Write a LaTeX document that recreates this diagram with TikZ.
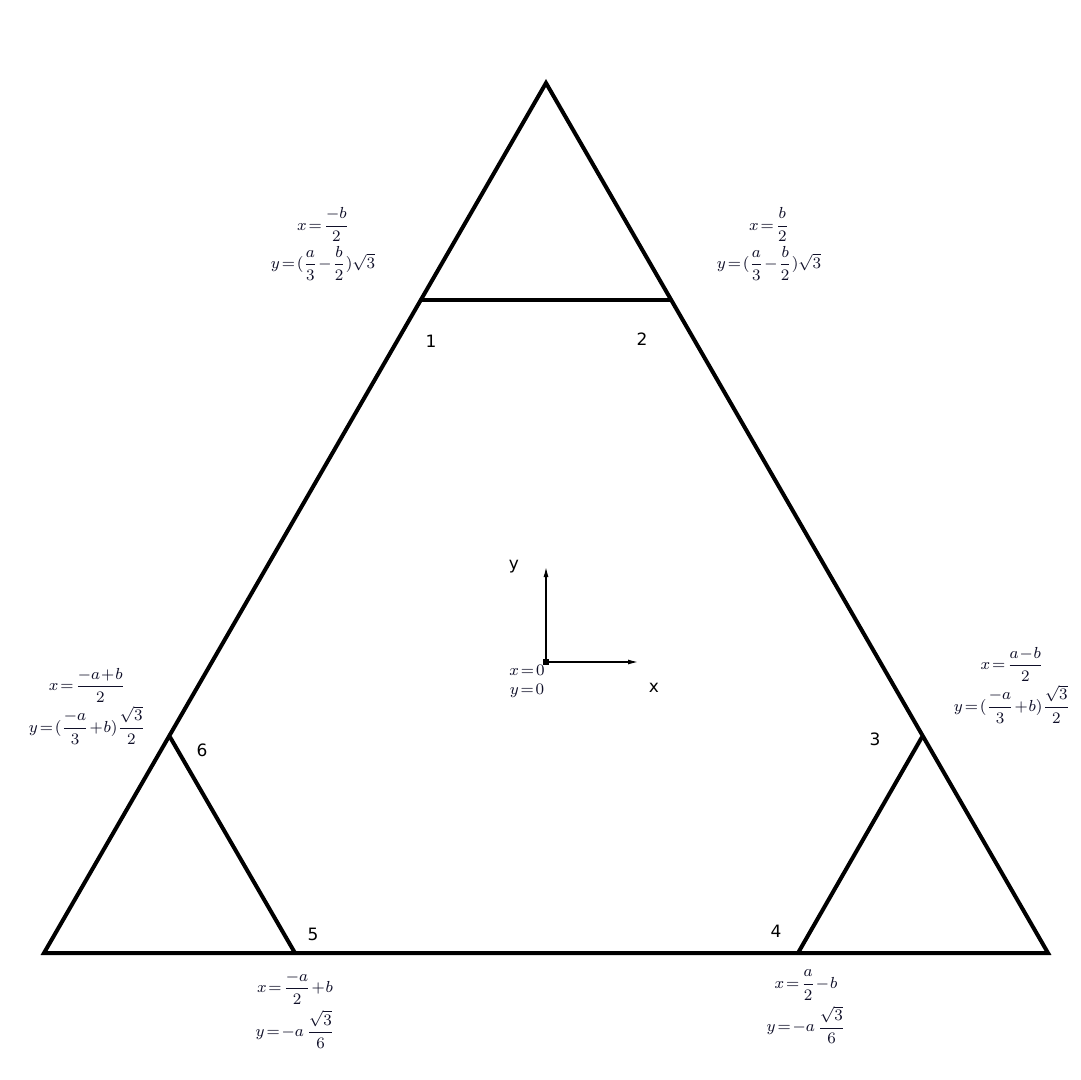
\documentclass[tikz,border=0pt]{standalone}
\usepackage{amsmath}
\usepackage{fontspec}
\newfontfamily\labfont{DejaVu Sans}
\usetikzlibrary{arrows.meta}
\definecolor{formc}{RGB}{15,15,40}
\begin{document}
\begin{tikzpicture}[x=0.5pt,y=-0.5pt,
  edge/.style={line width=2pt,line join=miter},
  axis/.style={line width=0.6pt,-{Latex[length=5pt,width=2.5pt]}},
  numlab/.style={font=\labfont\fontsize{8.5}{10}\selectfont},
  formula/.style={font=\fontsize{8.5}{10.5}\selectfont,text=formc,align=center,inner sep=0pt}]
\useasboundingbox[fill=white] (0,0) rectangle (1080,1080);
% vertices
\coordinate (A) at (546,83);
\coordinate (B) at (44,953);
\coordinate (C) at (1048,953);
\coordinate (P1) at (421,300);
\coordinate (P2) at (670,300);
\coordinate (P3) at (922,737);
\coordinate (P4) at (798,953);
\coordinate (P5) at (295,953);
\coordinate (P6) at (170,737);
\draw[edge] (A) -- (B) -- (C) -- cycle;
\draw[edge] (P1) -- (P2);
\draw[edge] (P3) -- (P4);
\draw[edge] (P6) -- (P5);
% axes
\coordinate (O) at (546,662);
\coordinate (Ox) at (638,662);
\coordinate (Oy) at (546,567);
\draw[axis] (O) -- (Ox);
\draw[axis] (O) -- (Oy);
\fill (543,659) rectangle (549,665);
\node[numlab] (ylab) at (514,567) {y};
\node[numlab] (xlab) at (654,688) {x};
\node[formula] (o) at (527,681) {$x\!=\!0$\\[-1pt]$y\!=\!0$};
% point numbers
\node[numlab] (n1) at (431,341) {1};
\node[numlab] (n2) at (642,339) {2};
\node[numlab] (n3) at (875,739) {3};
\node[numlab] (n4) at (776,931) {4};
\node[numlab] (n5) at (313,934) {5};
\node[numlab] (n6) at (202,750) {6};
% formulas
\node[formula] (f1) at (323,244) {$x\!=\!\dfrac{-b}{2}$\\[1pt]$y\!=\!(\dfrac{a}{3}\!-\!\dfrac{b}{2})\sqrt{3}$};
\node[formula] (f2) at (769,244) {$x\!=\!\dfrac{b}{2}$\\[1pt]$y\!=\!(\dfrac{a}{3}\!-\!\dfrac{b}{2})\sqrt{3}$};
\node[formula] (f6) at (87,706) {$x\!=\!\dfrac{-a\!+\!b}{2}$\\[1pt]$y\!=\!(\dfrac{-a}{3}\!+\!b)\dfrac{\sqrt{3}}{2}$};
\node[formula] (f3) at (1012,685) {$x\!=\!\dfrac{a\!-\!b}{2}$\\[1pt]$y\!=\!(\dfrac{-a}{3}\!+\!b)\dfrac{\sqrt{3}}{2}$};
\node[formula] (f5) at (295,1010) {$x\!=\!\dfrac{-a}{2}\!+\!b$\\[2pt]$y\!=\!-a\,\dfrac{\sqrt{3}}{6}$};
\node[formula] (f4) at (806,1007) {$x\!=\!\dfrac{a}{2}\!-\!b$\\[2pt]$y\!=\!-a\,\dfrac{\sqrt{3}}{6}$};
\end{tikzpicture}
\end{document}
